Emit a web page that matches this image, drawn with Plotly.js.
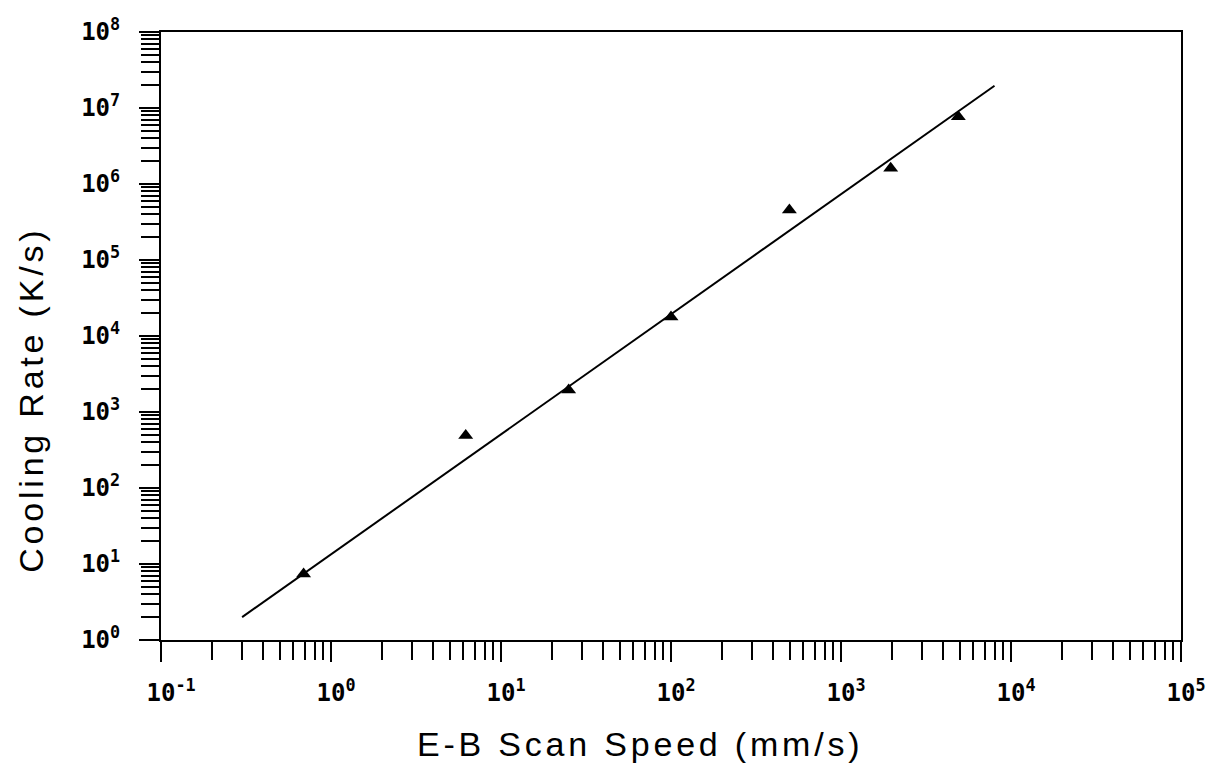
<!DOCTYPE html>
<html>
<head>
<meta charset="utf-8">
<script src="https://cdn.plot.ly/plotly-3.0.1.min.js"></script>
<style>
html,body{margin:0;padding:0;background:#fff;}
#chart{width:1215px;height:764px;}
.annotation-text{letter-spacing:3.8px;}
</style>
</head>
<body>
<div id="chart"></div>
<script>
// Measured data (E-B scan speed mm/s vs cooling rate K/s)
const scanSpeed = [0.69, 6.2, 25, 100, 497, 1960, 4900];
const coolingRate = [7.4, 490, 1950, 17800, 455000, 1.61e6, 7.7e6];

// Fitted line end points
const fitSpeed = [0.3, 8000];
const fitRate = [2.0, 1.96e7];

// Tick labels
const xTickVals = [0.1, 1, 10, 100, 1000, 10000, 100000];
const xTickText = ['<sup>&nbsp;&nbsp;</sup>10<sup>-1</sup>', '<sup>&nbsp;</sup>10<sup>0</sup>', '<sup>&nbsp;</sup>10<sup>1</sup>', '<sup>&nbsp;</sup>10<sup>2</sup>', '<sup>&nbsp;</sup>10<sup>3</sup>', '<sup>&nbsp;</sup>10<sup>4</sup>', '<sup>&nbsp;</sup>10<sup>5</sup>'];
const yTickVals = [1, 10, 100, 1e3, 1e4, 1e5, 1e6, 1e7, 1e8];
const yTickText = ['10<sup>0</sup>', '10<sup>1</sup>', '10<sup>2</sup>', '10<sup>3</sup>', '10<sup>4</sup>', '10<sup>5</sup>', '10<sup>6</sup>', '10<sup>7</sup>', '10<sup>8</sup>'];

const xTitle = 'E-B Scan Speed (mm/s)';
const yTitle = 'Cooling Rate (K/s)';

const tickFont = {family: 'DejaVu Sans Mono', size: 24, color: '#000', weight: 'bold'};
const titleFont = {family: 'Liberation Sans, Arial, sans-serif', size: 34, color: '#000'};

const traces = [
  {
    x: fitSpeed, y: fitRate, mode: 'lines', type: 'scatter',
    line: {color: '#000', width: 2}, hoverinfo: 'skip', showlegend: false
  },
  {
    x: scanSpeed, y: coolingRate, mode: 'markers', type: 'scatter',
    marker: {symbol: 'triangle-up', size: 13, color: '#000'}, showlegend: false
  }
];

const axisCommon = {
  type: 'log', showgrid: false, zeroline: false,
  showline: true, linecolor: '#000', linewidth: 2, mirror: true,
  ticks: 'outside', ticklen: 20, tickwidth: 2, tickcolor: '#000',
  tickmode: 'array', tickfont: tickFont,
  minor: {ticks: 'outside', ticklen: 18, tickwidth: 2, tickcolor: '#000', dtick: 'D1', showgrid: false}
};

const layout = {
  width: 1215, height: 764,
  paper_bgcolor: '#fff', plot_bgcolor: '#fff',
  margin: {l: 161, r: 34, t: 32, b: 124},
  showlegend: false,
  xaxis: Object.assign({}, axisCommon, {
    range: [-1, 5], tickvals: xTickVals, ticktext: xTickText, ticklabelstandoff: 10
  }),
  yaxis: Object.assign({}, axisCommon, {
    range: [0, 8], tickvals: yTickVals, ticktext: yTickText, ticklabelstandoff: 14
  }),
  annotations: [
    {
      text: xTitle, xref: 'paper', yref: 'paper', x: 0.47, y: 0,
      xanchor: 'center', yanchor: 'middle', yshift: -104, showarrow: false, font: titleFont
    },
    {
      text: yTitle, xref: 'paper', yref: 'paper', x: 0, y: 0.395, textangle: -90,
      xanchor: 'center', yanchor: 'middle', xshift: -130, showarrow: false, font: titleFont
    }
  ]
};

Plotly.newPlot('chart', traces, layout, {staticPlot: true, displayModeBar: false});
</script>
</body>
</html>
